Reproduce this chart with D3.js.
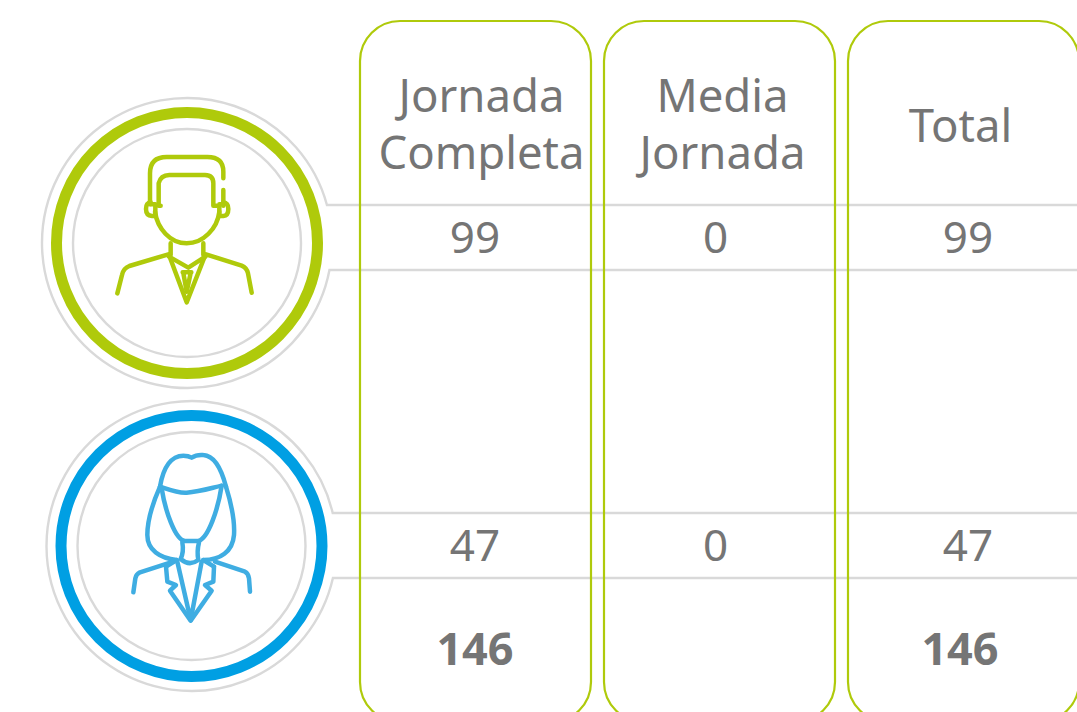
<!DOCTYPE html>
<html>
<head>
<meta charset="utf-8">
<script src="https://cdnjs.cloudflare.com/ajax/libs/d3/7.8.5/d3.min.js"></script>
<style>
    html, body { margin: 0; padding: 0; background: #fff; overflow: hidden; }
    svg { display: block; }
    text { font-family: "Noto Sans", sans-serif; fill: #757575; text-anchor: middle; }
</style>
</head>
<body>
<svg id="chart" width="1077" height="712"></svg>
<script>
"use strict";

const columns = ["Jornada Completa", "Media Jornada", "Total"];
const headerLines = [["Jornada", "Completa"], ["Media", "Jornada"], ["Total"]];
const rows = ["Hombres", "Mujeres"];
const fullTime = [99, 47];
const partTime = [0, 0];
const rowTotal = [99, 47];
const columnTotals = [146, null, 146];

const GREEN = "#afca0b";
const BLUE = "#009fe3";
const ICON_BLUE = "#3fade2";
const GREY = "#d9d9d9";

// icon outlines, drawn in a 3x space and scaled down on render
const manIcon = [
    "M310,100 V80 Q310,36 262,36 H140 Q90,36 90,85 V178",
    "M310,135 V182",
    "M122,182 H116 V115 Q122,90 148,90 H255 Q280,90 280,115 V182 H290",
    "M92,172 Q78,174 78,192 Q78,212 96,213 H106 V178 H92 Z",
    "M310,172 Q325,174 325,192 Q325,212 310,213 H298 V178 H310 Z",
    "M105,200 C112,250 150,295 200,295 C250,295 292,250 298,200",
    "M152,295 V330 M250,295 V330",
    "M147,330 L200,472 L256,330",
    "M147,335 L205,368 L256,335",
    "M145,328 L28,363 Q10,370 6,390 L-8,445",
    "M258,328 L365,362 Q380,368 384,385 L395,443",
    "M188,382 H214 M190,384 L200,440 L212,384"
];
const womanIcon = [
    "M120,125 C130,65 155,32 190,32 Q205,32 215,38 Q230,28 250,30 C285,32 305,75 318,125",
    "M120,125 C150,135 175,145 200,143 C240,140 270,130 305,122",
    "M120,125 C100,170 82,220 82,270 C82,315 120,340 170,345",
    "M318,125 C335,180 345,225 342,270 C338,320 300,345 250,345",
    "M125,130 C135,195 165,285 195,288 H235 C265,280 295,190 305,122",
    "M187,292 Q192,320 182,342 Q208,365 235,345 Q230,320 237,292",
    "M160,350 L60,382 Q48,388 46,400 L40,442",
    "M285,350 L375,380 Q385,385 387,400 L390,440",
    "M138,365 L142,410 L168,420 L150,437 L212,527 L275,437 L255,420 L280,410 L282,365",
    "M172,350 L212,525 L245,350",
    "M138,365 L170,345 M282,365 L250,345"
];

const svg = d3.select("#chart");

const x = d3.scaleBand()
    .domain(columns)
    .range([360, 1079])
    .paddingInner(13 / 244);
const y = d3.scalePoint()
    .domain(rows)
    .range([237.5, 545.5]);

const ROW_HEIGHT = 65;
const BOX_TOP = 21;
const BOX_BOTTOM = 722;

// header and number centres do not sit on the band centre in the original
const headerOffset = [6, 3, -3];
const valueOffset = [-0.5, -4, 4.5];
const totalOffset = [-0.5, 0, -3.5];

const badges = [
    { row: rows[0], cx: 187, cy: 243, ring: GREEN, icon: manIcon, iconColor: GREEN, ix: 120, iy: 145 },
    { row: rows[1], cx: 191.5, cy: 546, ring: BLUE, icon: womanIcon, iconColor: ICON_BLUE, ix: 120, iy: 445 }
];

/**
 * Draws the two rules of a row together with the badge outline they grow out of
 */
const drawRowLines = (badge) => {
    const r = 145;
    const top = y(badge.row) - ROW_HEIGHT / 2;
    const bottom = y(badge.row) + ROW_HEIGHT / 2;
    const a0 = Math.asin((bottom - badge.cy) / r);
    const a1 = Math.asin((top - badge.cy) / r);
    const startX = badge.cx + r * Math.cos(a0);
    const endX = badge.cx + r * Math.cos(a1);
    svg.append("path")
        .attr("fill", "none")
        .attr("stroke", GREY)
        .attr("stroke-width", 2.4)
        .attr("d", `M1077,${bottom} H${startX} A${r},${r} 0 1 1 ${endX},${top} H1077`);
};

const drawBadge = (badge) => {
    const g = svg.append("g");
    g.append("circle")
        .attr("cx", badge.cx).attr("cy", badge.cy).attr("r", 130.5)
        .attr("fill", "none").attr("stroke", badge.ring).attr("stroke-width", 11);
    g.append("circle")
        .attr("cx", badge.cx).attr("cy", badge.cy).attr("r", 114)
        .attr("fill", "none").attr("stroke", GREY).attr("stroke-width", 2.4);
    g.append("g")
        .attr("transform", `translate(${badge.ix},${badge.iy}) scale(${1 / 3})`)
        .selectAll("path")
        .data(badge.icon)
        .join("path")
        .attr("d", (d) => d)
        .attr("fill", "none")
        .attr("stroke", badge.iconColor)
        .attr("stroke-width", 13.5)
        .attr("stroke-linecap", "round")
        .attr("stroke-linejoin", "round");
};

badges.forEach(drawRowLines);
badges.forEach(drawBadge);

// column outlines, open past the bottom of the picture
svg.append("g")
    .selectAll("rect")
    .data(columns)
    .join("rect")
    .attr("x", (d) => x(d))
    .attr("y", BOX_TOP)
    .attr("width", x.bandwidth())
    .attr("height", BOX_BOTTOM - BOX_TOP)
    .attr("rx", 40)
    .attr("ry", 40)
    .attr("fill", "none")
    .attr("stroke", GREEN)
    .attr("stroke-width", 2.2);

// headers
const headerY = [[112, 169], [112, 169], [142]];
columns.forEach((c, i) => {
    headerLines[i].forEach((line, j) => {
        svg.append("text")
            .attr("x", x(c) + x.bandwidth() / 2 + headerOffset[i])
            .attr("y", headerY[i][j])
            .attr("font-size", 45.5)
            .text(line);
    });
});

// row values
const valueColumns = [fullTime, partTime, rowTotal];
valueColumns.forEach((vals, i) => {
    svg.append("g")
        .selectAll("text")
        .data(vals)
        .join("text")
        .attr("x", x(columns[i]) + x.bandwidth() / 2 + valueOffset[i])
        .attr("y", (d, k) => y(rows[k]) + 15.5)
        .attr("font-size", 44)
        .text((d) => d);
});

// totals
svg.append("g")
    .selectAll("text")
    .data(columnTotals)
    .join("text")
    .attr("x", (d, i) => x(columns[i]) + x.bandwidth() / 2 + totalOffset[i])
    .attr("y", 665)
    .attr("font-size", 45)
    .attr("font-weight", 700)
    .text((d) => (d === null ? "" : d));
</script>
</body>
</html>
